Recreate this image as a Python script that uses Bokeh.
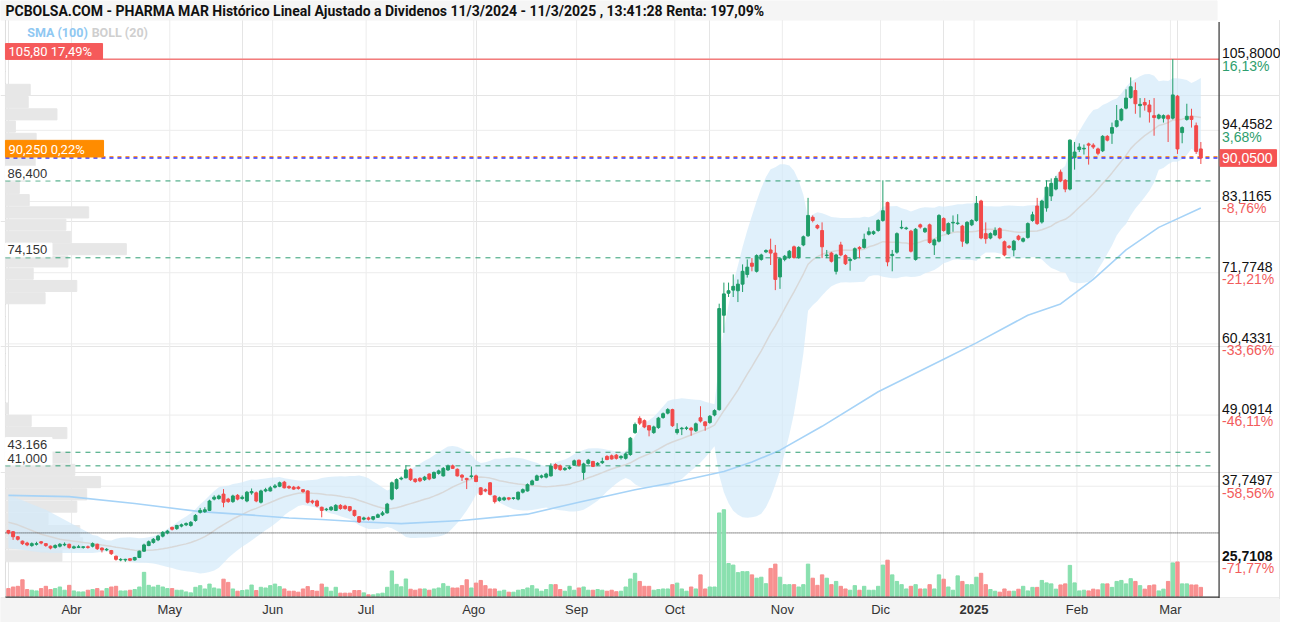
import numpy as np
import pandas as pd
from bokeh.plotting import figure
from bokeh.models import Range1d
from bokeh.core.properties import value
from bokeh.embed import file_html
from bokeh.resources import INLINE

# ------------------------------------------------------------------ data
title_text = ("PCBOLSA.COM - PHARMA MAR Histórico Lineal Ajustado a Dividenos "
              "11/3/2024 - 11/3/2025 , 13:41:28 Renta: 197,09%")
first_day, last_day = "2024-03-11", "2025-03-11"
market_holidays = ["2024-03-29", "2024-04-01", "2024-05-01",
                   "2024-12-25", "2024-12-26", "2025-01-01"]

# rows: open, high, low, close, volume (thousand shares, relative)
m2024_03 = [[30.7, 30.8, 30.1, 30.31, 77], [30.5, 30.6, 29.2, 29.7, 93], [29.7, 29.8, 29.1, 29.3, 100],
            [29.0, 29.1, 28.4, 28.6, 167], [28.7, 28.9, 28.2, 28.4, 67], [28.3, 28.8, 28.1, 28.6, 60],
            [28.5, 28.9, 28.3, 28.6, 53], [28.9, 29.0, 28.5, 28.7, 77], [28.6, 28.7, 28.1, 28.3, 100],
            [28.2, 28.3, 27.7, 27.9, 67], [28.0, 28.5, 27.8, 28.3, 77], [28.2, 28.7, 28.0, 28.5, 93],
            [28.4, 28.8, 28.2, 28.5, 60], [28.5, 28.6, 27.8, 28.0, 110]]
m2024_04 = [[27.9, 28.3, 27.8, 28.1, 53], [28.0, 28.4, 27.9, 28.1, 43], [28.0, 28.2, 27.8, 28.1, 43],
            [28.1, 28.3, 27.8, 28.0, 60], [28.2, 28.8, 28.0, 28.6, 67], [28.5, 28.6, 27.6, 27.8, 77],
            [27.9, 28.0, 27.2, 27.6, 53], [27.6, 27.9, 27.4, 27.7, 77], [27.5, 27.6, 26.8, 27.0, 93],
            [26.6, 26.7, 25.9, 26.1, 100], [26.0, 26.3, 25.8, 26.1, 53], [26.0, 26.2, 25.7108, 26.1, 53],
            [26.2, 26.3, 25.8, 25.95, 60], [26.0, 26.5, 25.9, 26.4, 67], [26.4, 27.5, 26.3, 27.4, 93],
            [27.4, 28.6, 27.3, 28.4, 243], [28.3, 29.1, 28.2, 28.9, 110], [28.8, 29.5, 28.6, 29.3, 93],
            [29.2, 30.0, 29.0, 29.8, 110], [29.8, 30.6, 29.6, 30.4, 93], [30.3, 30.8, 30.1, 30.6, 77]]
m2024_05 = [[31.2, 31.3, 30.7, 30.9, 77], [31.0, 31.6, 30.8, 31.5, 60], [31.4, 31.8, 31.2, 31.6, 60],
            [31.6, 32.0, 31.4, 31.8, 43], [31.5, 32.2, 31.3, 32.0, 33], [32.3, 33.3, 32.1, 33.1, 90],
            [33.6, 34.3, 33.4, 33.9, 107], [33.7, 34.4, 33.5, 34.0, 73], [33.9, 35.6, 33.8, 35.4, 123],
            [35.7, 36.3, 35.5, 36.0, 83], [35.8, 36.4, 35.6, 36.2, 73], [36.5, 37.3, 34.4, 35.2, 173],
            [35.7, 35.9, 35.1, 35.3, 140], [35.3, 36.4, 35.1, 36.2, 73], [36.3, 36.5, 35.5, 35.7, 50],
            [35.8, 36.3, 35.6, 36.0, 57], [35.4, 37.0, 35.2, 36.8, 63], [36.7, 37.4, 36.4, 36.9, 113],
            [36.7, 36.9, 35.2, 35.4, 57], [35.2, 37.2, 35.0, 37.0, 90], [37.0, 37.5, 36.8, 37.2, 83],
            [37.0, 37.8, 36.9, 37.5, 107]]
m2024_06 = [[37.6, 38.1, 37.4, 37.8, 123], [37.75, 38.5, 37.6, 38.3, 97], [38.4, 38.6, 37.4, 37.5, 73],
            [37.7, 37.9, 37.3, 37.5, 50], [37.6, 37.8, 37.2, 37.3, 50], [37.6, 37.8, 37.2, 37.4, 40],
            [37.2, 37.3, 36.7, 36.9, 73], [37.0, 37.1, 35.0, 35.2, 97], [35.4, 35.6, 34.9, 35.2, 57],
            [35.4, 35.6, 34.4, 34.6, 50], [34.4, 34.5, 32.8, 33.9, 123], [34.0, 34.3, 33.8, 34.1, 90],
            [34.0, 34.6, 33.8, 34.4, 50], [33.9, 34.9, 33.8, 34.7, 90], [34.7, 34.9, 34.0, 34.2, 30],
            [34.6, 34.8, 34.0, 34.2, 30], [34.5, 34.6, 33.7, 33.9, 30], [33.9, 34.0, 32.9, 33.1, 57],
            [32.9, 33.0, 31.9, 32.05, 57], [32.5, 32.9, 32.3, 32.7, 33]]
m2024_07 = [[32.7, 32.9, 32.3, 32.5, 13], [32.5, 33.0, 32.3, 32.9, 13], [32.8, 33.4, 32.7, 33.2, 23],
            [33.2, 33.8, 33.0, 33.5, 30], [33.5, 35.1, 33.4, 34.9, 90], [35.7, 38.5, 35.5, 38.3, 257],
            [37.4, 39.0, 37.2, 38.8, 120], [38.9, 39.3, 38.7, 39.05, 95], [39.1, 41.1, 39.0, 40.35, 175],
            [40.45, 40.6, 38.6, 38.8, 70], [38.9, 39.0, 38.3, 38.5, 60], [39.0, 39.2, 38.4, 38.6, 73],
            [38.8, 39.4, 38.6, 39.2, 73], [39.7, 39.8, 38.7, 38.9, 60], [39.05, 40.1, 38.9, 39.95, 73],
            [39.8, 40.4, 39.6, 40.2, 83], [39.4, 40.8, 39.3, 40.6, 127], [40.35, 41.2, 40.2, 40.97, 100],
            [41.0, 41.2, 40.5, 40.6, 83], [40.45, 40.6, 39.3, 39.4, 83], [39.5, 39.7, 38.6, 39.2, 107],
            [39.0, 39.1, 37.3, 38.8, 167], [39.3, 40.9, 39.0, 39.4, 83]]
m2024_08 = [[39.4, 39.6, 38.4, 38.5, 133], [37.5, 37.6, 36.3, 36.45, 160], [37.2, 37.4, 36.8, 37.0, 107],
            [38.3, 38.4, 36.3, 36.45, 73], [36.2, 36.3, 35.0, 35.3, 73], [35.5, 36.1, 35.3, 35.9, 50],
            [35.6, 36.1, 35.4, 35.9, 60], [35.9, 36.0, 35.5, 35.7, 40], [35.8, 36.0, 35.6, 35.9, 40],
            [35.7, 36.9, 35.5, 36.8, 60], [36.8, 37.4, 36.6, 37.2, 67], [37.0, 38.2, 36.9, 38.0, 83],
            [38.0, 38.8, 37.9, 38.6, 107], [38.7, 39.6, 38.6, 39.4, 73], [39.2, 39.6, 39.0, 39.4, 50],
            [39.2, 39.9, 39.0, 39.7, 67], [39.4, 41.4, 39.3, 40.97, 117], [41.2, 41.4, 40.4, 40.6, 117],
            [41.0, 41.2, 40.2, 40.4, 67], [40.4, 40.8, 40.2, 40.6, 50], [40.6, 41.0, 40.4, 40.8, 100],
            [41.1, 42.0, 41.0, 41.8, 60]]
m2024_09 = [[41.9, 42.0, 40.9, 41.1, 83], [39.95, 41.5, 38.8, 41.3, 93], [41.4, 42.1, 41.2, 41.9, 60],
            [41.7, 41.8, 40.8, 40.9, 60], [41.2, 41.6, 41.0, 41.4, 67], [41.5, 42.3, 41.3, 41.7, 60],
            [42.5, 42.7, 41.9, 42.0, 50], [42.6, 42.8, 42.0, 42.1, 60], [42.7, 42.9, 42.0, 42.2, 45],
            [42.3, 42.7, 42.0, 42.5, 50], [42.2, 43.1, 42.0, 42.9, 93], [42.8, 45.6, 42.6, 45.4, 175],
            [46.3, 47.9, 46.1, 47.6, 233], [48.56, 48.9, 47.5, 47.8, 150], [48.2, 48.4, 47.0, 47.2, 100],
            [47.4, 47.5, 45.7, 46.7, 100], [46.3, 47.4, 46.1, 47.2, 60], [47.1, 48.8, 46.9, 48.6, 67],
            [48.7, 49.5, 48.5, 49.3, 73], [49.4, 50.2, 49.2, 49.96, 73], [49.96, 50.1, 47.2, 47.4, 117]]
m2024_10 = [[46.3, 47.8, 46.0, 46.8, 133], [46.9, 47.2, 45.9, 47.0, 73], [46.95, 47.3, 46.7, 47.05, 50],
            [47.0, 47.2, 45.8, 46.7, 93], [46.6, 47.9, 46.4, 47.7, 73], [48.66, 50.5, 47.9, 48.14, 217],
            [48.0, 48.1, 46.6, 47.4, 73], [47.9, 49.1, 47.7, 48.9, 93], [49.1, 50.0, 48.9, 49.8, 93],
            [49.96, 66.84, 49.8, 66.06, 850], [65.0, 70.2, 62.2, 68.4, 883], [68.5, 70.2, 67.9, 68.9, 333],
            [69.0, 71.5, 67.9, 69.6, 317], [68.9, 70.7, 67.1, 69.95, 240], [69.95, 73.1, 68.7, 72.0, 250],
            [71.5, 73.9, 71.0, 72.66, 250], [73.3, 74.1, 72.0, 72.8, 217], [72.0, 74.7, 71.8, 74.5, 183],
            [73.9, 74.8, 73.7, 74.6, 193], [75.1, 75.5, 74.9, 75.3, 127], [75.4, 77.2, 73.0, 74.9, 283],
            [74.9, 76.2, 69.0, 70.7, 327], [71.1, 74.2, 69.2, 74.0, 193]]
m2024_11 = [[73.9, 74.6, 73.6, 74.4, 117], [74.2, 75.4, 74.0, 75.2, 117], [75.9, 76.1, 74.0, 74.2, 117],
            [74.2, 76.0, 74.0, 75.8, 93], [76.2, 77.7, 76.0, 77.5, 117], [77.65, 83.7, 77.5, 80.9, 327],
            [80.6, 80.9, 79.8, 80.1, 183], [79.3, 79.5, 78.7, 78.9, 110], [78.5, 79.8, 74.1, 75.9, 217],
            [74.5, 75.4, 74.1, 74.6, 183], [74.9, 75.1, 73.4, 73.6, 117], [72.0, 74.8, 71.5, 74.6, 150],
            [76.2, 76.7, 74.4, 74.6, 100], [74.5, 74.7, 73.0, 73.2, 73], [73.7, 74.1, 72.1, 73.9, 60],
            [74.0, 75.8, 73.8, 75.6, 107], [75.8, 76.0, 74.1, 75.6, 60], [75.8, 78.0, 75.6, 77.1, 100],
            [77.9, 79.0, 77.7, 78.3, 60], [78.0, 78.5, 77.8, 78.3, 60], [78.5, 80.3, 78.3, 80.1, 100]]
m2024_12 = [[80.1, 86.5, 79.9, 81.65, 317], [82.95, 83.1, 72.8, 73.5, 367], [74.5, 75.4, 72.0, 74.7, 217],
            [75.05, 78.2, 74.8, 78.0, 150], [78.9, 80.1, 78.7, 79.0, 117], [78.8, 79.1, 78.6, 78.9, 73],
            [78.4, 78.6, 75.0, 75.2, 100], [73.9, 78.9, 73.7, 78.7, 117], [79.4, 79.6, 78.8, 79.05, 73],
            [78.3, 79.0, 78.1, 78.8, 73], [79.4, 79.6, 76.4, 76.6, 117], [76.2, 77.2, 74.6, 77.0, 73],
            [76.8, 81.1, 76.6, 80.9, 217], [80.4, 80.6, 78.3, 78.5, 173], [78.0, 79.8, 77.8, 79.6, 93],
            [79.7, 80.9, 78.3, 79.8, 60], [79.6, 81.1, 79.4, 79.7, 207], [79.2, 79.4, 75.9, 76.8, 150],
            [76.5, 80.0, 76.3, 79.8, 117], [79.4, 80.3, 79.2, 80.1, 117]]
m2025_01 = [[80.1, 84.0, 79.9, 82.8, 193], [83.2, 83.4, 77.1, 77.3, 233], [78.0, 79.8, 76.4, 77.2, 117],
            [77.3, 78.2, 77.1, 78.0, 67], [77.8, 79.0, 77.6, 78.5, 50], [78.8, 79.0, 77.1, 77.3, 40],
            [76.7, 76.9, 74.4, 74.6, 73], [76.0, 76.2, 75.6, 75.8, 50], [75.4, 77.0, 74.4, 76.8, 50],
            [77.6, 77.8, 76.9, 77.1, 70], [76.8, 77.4, 76.6, 77.2, 100], [77.4, 79.8, 77.2, 79.6, 53],
            [80.1, 81.5, 79.9, 81.0, 89], [82.4, 83.7, 79.4, 79.6, 89], [79.85, 83.4, 79.6, 83.2, 160],
            [82.1, 86.5, 81.5, 85.4, 135], [84.0, 86.8, 83.2, 86.0, 125], [85.1, 87.2, 84.9, 86.8, 71],
            [87.8, 88.2, 86.2, 86.4, 114], [86.5, 86.7, 84.6, 85.1, 125], [85.1, 93.0, 84.9, 92.9, 314],
            [90.1, 92.6, 88.2, 91.0, 135]]
m2025_02 = [[91.4, 92.4, 91.0, 91.8, 53], [91.5, 92.2, 90.6, 91.6, 60], [92.3, 92.5, 89.0, 92.1, 53],
            [92.1, 92.4, 91.5, 91.8, 71], [91.5, 91.7, 90.5, 90.8, 64], [91.2, 93.7, 91.0, 93.5, 125],
            [93.5, 93.7, 92.7, 92.9, 125], [94.0, 95.7, 92.3, 94.9, 89], [95.1, 98.5, 94.9, 96.0, 150],
            [96.1, 98.0, 95.9, 97.8, 160], [98.0, 101.0, 97.8, 99.6, 125], [99.7, 102.9, 99.5, 101.4, 178],
            [100.8, 102.1, 97.1, 98.7, 150], [98.4, 99.6, 96.5, 98.6, 107], [98.9, 99.6, 97.6, 98.5, 71],
            [98.5, 99.3, 95.7, 97.4, 107], [96.8, 99.6, 93.6, 96.5, 114], [96.4, 97.1, 96.2, 96.9, 53],
            [96.4, 97.0, 95.7, 96.8, 71], [96.8, 97.0, 92.6, 96.3, 150]]
m2025_03 = [[96.4, 105.8, 96.2, 100.1, 339], [99.9, 100.1, 90.7, 91.5, 349], [94.1, 95.1, 92.4, 94.9, 125],
            [96.2, 98.7, 96.0, 96.7, 125], [96.7, 97.9, 94.9, 96.2, 114], [95.2, 95.7, 90.7, 91.1, 114],
            [91.5, 92.6, 89.1, 90.05, 89]]

ask_price = 90.25            # orange reference (0,22 %)
levels = [86.4, 74.15, 43.166, 41.0]
level_labels = ["86,400", "74,150", "43.166", "41,000"]

# SMA(100) (candle index, value)
sma100_x = [0, 13, 27, 41, 53, 60, 67, 75, 84, 97, 111, 122, 134, 142, 153, 159, 165, 174,
            186, 200, 207, 218, 225, 232, 239, 246, 255]
sma100_y = [36.3, 36.1, 35.0, 33.7, 33.1, 32.7, 32.45, 32.1, 31.8, 32.3, 33.3, 35.2, 37.2, 38.3,
            40.1, 41.6, 43.5, 47.3, 52.8, 58.0, 60.6, 65.0, 66.8, 70.7, 75.4, 79.0, 82.1]
boll_up_head = [36.2, 36.0, 35.8, 35.5, 35.2, 34.9, 34.6, 34.3, 34.0, 33.6, 33.2, 32.8, 32.4,
                32.0, 31.6, 31.2, 30.8, 30.4, 30.0]
boll_mid_head = [32.0, 31.8, 31.6, 31.3, 31.0, 30.7, 30.4, 30.1, 29.9, 29.7, 29.5, 29.3, 29.2,
                 29.1, 29.0, 28.9, 28.8, 28.7, 28.6]
boll_lo_head = [27.9, 27.8, 27.7, 27.6, 27.5, 27.4, 27.3, 27.2, 27.2, 27.1, 27.1, 27.1, 27.1,
                27.1, 27.1, 27.1, 27.1, 27.1, 27.1]

# volume-by-price profile (relative length per price bin, bottom bin first)
profile_len = [57, 78, 75, 43, 72, 82, 96, 70, 65, 40, 62, 26, 3, 0, 0, 0, 0, 0, 0, 0, 0,
               40, 72, 28, 63, 122, 66, 61, 84, 24, 14, 20, 30, 40, 31, 10, 52, 23, 25, 0, 0]

right_ticks = [105.8, 94.4582, 83.1165, 71.7748, 60.4331, 49.0914, 37.7497, 25.7108]
right_tick_labels = ["105,8000", "94,4582", "83,1165", "71,7748", "60,4331", "49,0914",
                     "37,7497", "25,7108"]
right_pct_labels = ["16,13%", "3,68%", "-8,76%", "-21,21%", "-33,66%", "-46,11%", "-58,56%",
                    "-71,77%"]
month_labels = ["Abr", "May", "Jun", "Jul", "Ago", "Sep", "Oct", "Nov", "Dic", "2025", "Feb", "Mar"]

# ------------------------------------------------------------------ build table
rows = np.array(m2024_03 + m2024_04 + m2024_05 + m2024_06 + m2024_07 + m2024_08 + m2024_09 +
                m2024_10 + m2024_11 + m2024_12 + m2025_01 + m2025_02 + m2025_03, dtype=float)
opens, highs, lows, closes, volumes = rows.T
N = len(closes)
idx = np.arange(N)
dates = pd.bdate_range(first_day, last_day)
dates = dates[~dates.isin(pd.to_datetime(market_holidays))][:N]
month_first = [i for i in range(1, len(dates)) if dates[i].month != dates[i - 1].month]

up = closes >= opens
GREEN, RED = "#1f9d69", "#f24a4a"
VGREEN, VRED = "#84deab", "#f88b8b"

# Bollinger 20
s = pd.Series(closes)
mid = s.rolling(20).mean().to_numpy()
sd = s.rolling(20).std(ddof=0).to_numpy()
K = 2.2
bu, bm, bl = mid + K * sd, mid.copy(), mid - K * sd
h = len(boll_up_head)
bu[:h], bm[:h], bl[:h] = boll_up_head, boll_mid_head, boll_lo_head

# ------------------------------------------------------------------ layout helpers (pixels of reference)
REF_W, REF_H = 1292, 636
C0, DX = 8.0, 4.72
TOP_PX, PXU = 60.0, 6.417
top_price = highs.max()
last_price = closes[-1]
base_price = closes[0]


def xr(px):
    return (px - C0) / DX


def yr(py):
    return top_price - (py - TOP_PX) / PXU


def ypx(price):
    return TOP_PX + (top_price - price) * PXU


VOL_BASE, VOL_PX = 609.0, 10.0

p = figure(width=1280, height=622, x_range=Range1d(xr(0), xr(REF_W)),
           y_range=Range1d(yr(REF_H), yr(0)), toolbar_location=None, output_backend="svg",
           min_border=0, x_axis_location=None, y_axis_location=None)
p.outline_line_color = None
p.background_fill_color = "white"
p.border_fill_color = "white"
p.extra_y_ranges = {"vol": Range1d((VOL_BASE - REF_H) * VOL_PX, VOL_BASE * VOL_PX)}
p.extra_x_ranges = {"prof": Range1d(-5, REF_W - 5)}

LEFT, RIGHT = xr(5), xr(1230)
TOPY, BOTY = yr(20), yr(610)

# bands (title / bottom)
p.quad(left=[xr(0)], right=[xr(1228)], bottom=[yr(20)], top=[yr(0)], color="#f5f5f5")
p.quad(left=[xr(0)], right=[xr(1292)], bottom=[yr(636)], top=[yr(611)], color="#f4f4f4")

# grid
gx = [i - 0.5 for i in month_first]
p.segment(x0=gx, y0=[BOTY] * len(gx), x1=gx, y1=[TOPY] * len(gx), color="#ececec", line_width=1)
p.segment(x0=[LEFT] * len(right_ticks), y0=right_ticks, x1=[RIGHT] * len(right_ticks),
          y1=right_ticks, color="#ececec", line_width=1)
p.segment(x0=[LEFT], y0=[BOTY], x1=[LEFT], y1=[TOPY], color="#dddddd")
p.segment(x0=[xr(1291)], y0=[yr(612)], x1=[xr(1291)], y1=[TOPY], color="#e6e6e6")

# volume profile
edges = np.linspace(lows.min(), highs.max(), len(profile_len) + 1)
gap = 0.6 / PXU
p.quad(left=0, right=profile_len, bottom=edges[:-1] + gap, top=edges[1:] - gap,
       x_range_name="prof", color="#e7e7e7")

# Bollinger + SMA
p.varea(x=idx, y1=bl, y2=bu, fill_color="#d3e9fa", fill_alpha=0.7)
p.line(idx, bm, color="#d8d8d8", line_width=1.5)
p.line(sma100_x, sma100_y, color="#a6d3f7", line_width=1.6)

# reference levels
p.segment(x0=[LEFT], y0=[top_price], x1=[RIGHT], y1=[top_price], color="#f47c7c", line_width=1.5)
p.segment(x0=[LEFT] * len(levels), y0=levels, x1=[xr(1226)] * len(levels), y1=levels,
          color="#2e9e72", line_width=1, line_dash="5 5")
p.segment(x0=[LEFT], y0=[base_price], x1=[RIGHT], y1=[base_price], color="#222222",
          line_width=1, line_dash="1 1")
p.segment(x0=[LEFT], y0=[ask_price], x1=[RIGHT], y1=[ask_price], color="#ff9a33",
          line_width=1.5, line_dash="4 4")
p.segment(x0=[LEFT], y0=[last_price], x1=[RIGHT], y1=[last_price], color="#3535ff",
          line_width=1.5, line_dash="4 4")

# volume bars
p.vbar(x=idx, top=volumes, bottom=0, width=0.72, y_range_name="vol",
       color=[VGREEN if u else VRED for u in up], alpha=0.95)

# candles
ccol = [GREEN if u else RED for u in up]
p.segment(x0=idx, y0=lows, x1=idx, y1=highs, color=ccol, line_width=1)
p.vbar(x=idx, top=np.maximum(opens, closes), bottom=np.minimum(opens, closes), width=0.62,
       fill_color=ccol, line_color=ccol, line_width=1)

# axes lines
p.segment(x0=[RIGHT], y0=[yr(611)], x1=[RIGHT], y1=[yr(22)], color="#333333", line_width=1.2)
p.segment(x0=[LEFT], y0=[BOTY], x1=[RIGHT], y1=[BOTY], color="#333333", line_width=1.2)

FONT = value("Roboto")
AX = value("Liberation Sans")

# title + legend
p.text(x=[xr(5)], y=[yr(11)], text=[title_text], text_font=FONT, text_font_style="bold",
       text_font_size="14px", text_color="#111111", text_baseline="middle")
p.text(x=[xr(27), xr(92)], y=[yr(33), yr(33)], text=["SMA (100)", "BOLL (20)"], text_font=FONT,
       text_font_style="bold", text_font_size="12.5px", text_color=["#8fc8f2", "#cfcfcf"],
       text_baseline="middle")

# left labels
pct_max = (top_price / last_price - 1) * 100
pct_ask = (ask_price / last_price - 1) * 100
fmt = lambda v, d: f"{v:.{d}f}".replace(".", ",")
p.quad(left=[xr(5)], right=[xr(103)], bottom=[yr(60)], top=[yr(44)], color="#f55a5a")
p.text(x=[xr(8)], y=[yr(52.5)], text=[f"{fmt(top_price, 2)}  {fmt(pct_max, 2)}%"], text_font=FONT,
       text_font_size="13px", text_color="white", text_baseline="middle")
p.quad(left=[xr(5)], right=[xr(104)], bottom=[yr(160)], top=[yr(143)], color="#ff8c00")
p.text(x=[xr(8)], y=[yr(152)], text=[f"{fmt(ask_price, 3)}  {fmt(pct_ask, 2)}%"], text_font=FONT,
       text_font_size="13px", text_color="white", text_baseline="middle")
lab_y = [yr(ypx(v) - 8) for v in levels]
p.quad(left=[xr(5)] * len(levels), right=[xr(52)] * len(levels),
       bottom=[yr(ypx(v) - 1) for v in levels], top=[yr(ypx(v) - 15) for v in levels], color="white")
p.text(x=[xr(7)] * len(levels), y=lab_y, text=level_labels, text_font=AX, text_font_size="13px",
       text_color="#333333", text_baseline="middle")

# right axis labels
ty = [yr(ypx(v) - 6) for v in right_ticks]
py_ = [yr(ypx(v) + 6.5) for v in right_ticks]
RFS = "14px"
p.text(x=[xr(1233)] * (len(right_ticks) - 1), y=ty[:-1], text=right_tick_labels[:-1], text_font=AX,
       text_font_size=RFS, text_color="#111111", text_baseline="middle")
p.text(x=[xr(1233)], y=[ty[-1]], text=[right_tick_labels[-1]], text_font=AX, text_font_style="bold",
       text_font_size=RFS, text_color="#111111", text_baseline="middle")
p.text(x=[xr(1233)] * len(right_ticks), y=py_, text=right_pct_labels, text_font=AX,
       text_font_size=RFS, text_color=["#2e9e6e" if not t.startswith("-") else "#f25c5c"
                                        for t in right_pct_labels], text_baseline="middle")
p.quad(left=[xr(1231)], right=[xr(1288)], bottom=[yr(ypx(last_price) + 8.5)],
       top=[yr(ypx(last_price) - 8.5)], color="#f55353")
p.text(x=[xr(1233)], y=[last_price], text=[fmt(last_price, 4)], text_font=AX,
       text_font_size=RFS, text_color="white", text_baseline="middle")

# month labels
mx = [i - 0.5 for i in month_first]
norm = [k for k, t in enumerate(month_labels) if t != "2025"]
p.text(x=[mx[k] for k in norm], y=[yr(623)] * len(norm), text=[month_labels[k] for k in norm],
       text_font=AX, text_font_size="13px", text_color="#333333", text_align="center",
       text_baseline="middle")
bold = [k for k, t in enumerate(month_labels) if t == "2025"]
p.text(x=[mx[k] for k in bold], y=[yr(623)] * len(bold), text=[month_labels[k] for k in bold],
       text_font=AX, text_font_style="bold", text_font_size="13px", text_color="#333333",
       text_align="center", text_baseline="middle")

open("out.html", "w").write(file_html(p, INLINE))
